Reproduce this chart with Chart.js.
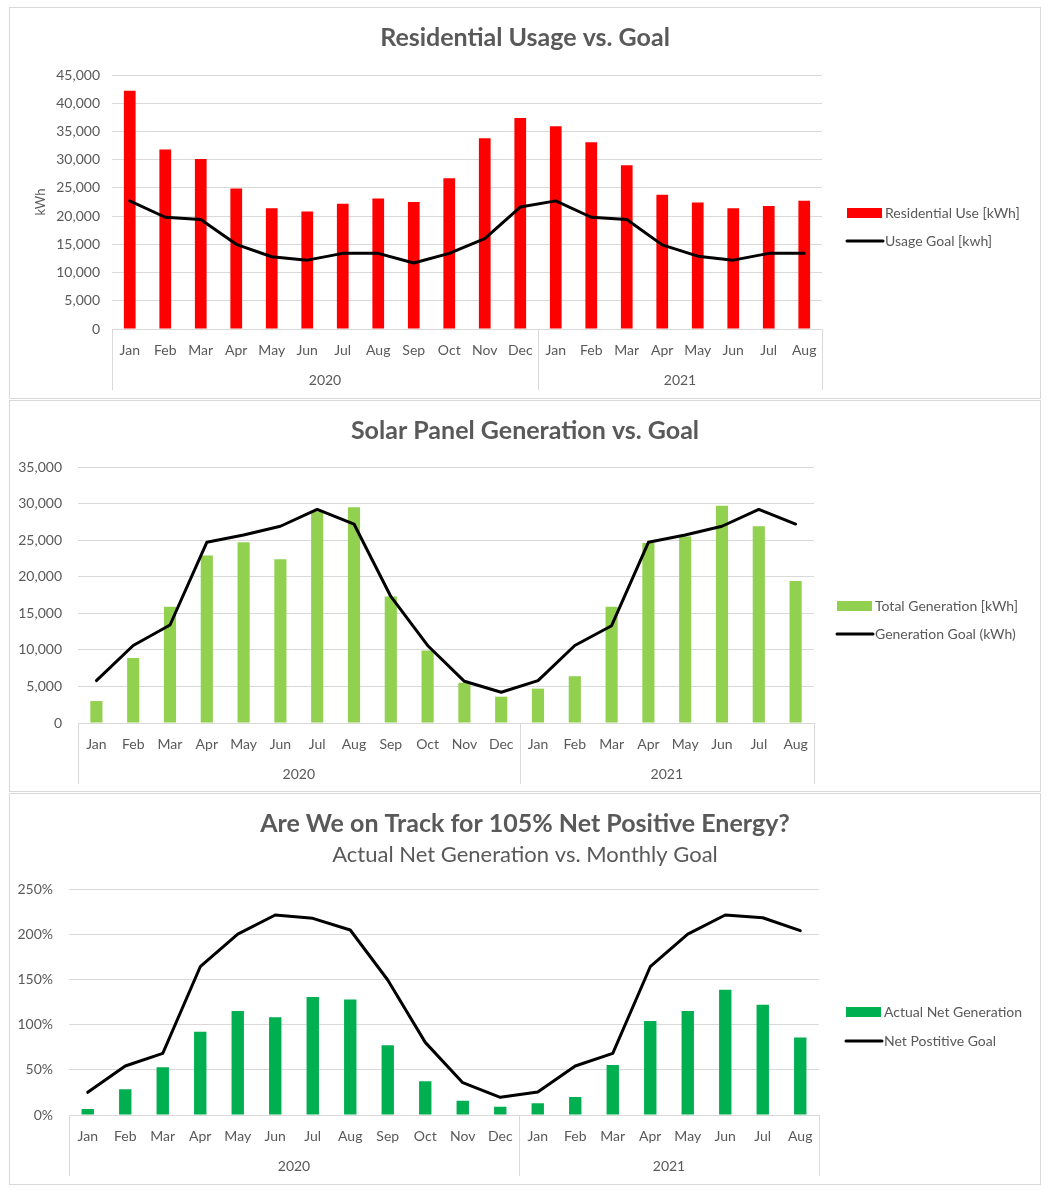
<!DOCTYPE html>
<html>
<head>
<meta charset="utf-8">
<script src="https://cdn.jsdelivr.net/npm/chart.js@4.4.1/dist/chart.umd.min.js"></script>
<style>
  body { margin: 0; background: #fff; }
  .panel { position: absolute; left: 9px; width: 1030px; height: 390px; border: 1px solid #d9d9d9; }
  canvas { display: block; }
</style>
</head>
<body>
<div class="panel" style="top:7px"><canvas id="usage" width="1030" height="390"></canvas></div>
<div class="panel" style="top:400px"><canvas id="solar" width="1030" height="390"></canvas></div>
<div class="panel" style="top:793px"><canvas id="net" width="1030" height="390"></canvas></div>
<script>
"use strict";

var months = ['Jan', 'Feb', 'Mar', 'Apr', 'May', 'Jun', 'Jul', 'Aug', 'Sep', 'Oct', 'Nov', 'Dec',
              'Jan', 'Feb', 'Mar', 'Apr', 'May', 'Jun', 'Jul', 'Aug'];
var years = ['2020', '2021'];
var yearSpans = [12, 8];

var residentialUse = [42200, 31800, 30100, 24900, 21400, 20800, 22200, 23100, 22500, 26700, 33800, 37400,
                      35900, 33100, 29000, 23800, 22400, 21400, 21800, 22700];
var usageGoal = [22700, 19800, 19400, 15000, 12800, 12200, 13400, 13400, 11700, 13400, 16000, 21600,
                 22700, 19800, 19400, 14900, 12900, 12200, 13400, 13400];

var totalGeneration = [3000, 8900, 15900, 22900, 24700, 22400, 28900, 29500, 17300, 9900, 5500, 3600,
                       4700, 6400, 15900, 24600, 25500, 29700, 26900, 19400];
var generationGoal = [5800, 10600, 13400, 24700, 25700, 26900, 29200, 27200, 17300, 10600, 5700, 4200,
                      5800, 10600, 13300, 24700, 25700, 26900, 29200, 27200];

// percent of monthly target
var actualNet = [6.6, 28.4, 52.8, 92.3, 115.2, 108.2, 130.7, 128.1, 77.2, 37.3, 15.9, 9.2,
                 12.9, 19.9, 55.4, 104.1, 115.2, 138.9, 122.2, 86.0];
var netGoal = [25.1, 54.3, 68.3, 164.3, 200.5, 221.6, 217.9, 205.0, 149.6, 80.5, 35.8, 19.6,
               25.6, 54.3, 68.3, 164.3, 200.5, 221.6, 218.6, 204.3];

var FONT = 'Lato, "Open Sans", sans-serif';
var GREY = '#595959';
var GRID = '#d9d9d9';

// two-level category axis: year labels under the months, split by vertical rules
var yearGroups = {
  id: 'yearGroups',
  afterDraw: function(chart) {
    var x = chart.scales.x, ctx = chart.ctx;
    var half = (x.getPixelForValue(1) - x.getPixelForValue(0)) / 2;
    var start = 0;
    ctx.save();
    ctx.strokeStyle = GRID;
    ctx.lineWidth = 1;
    ctx.fillStyle = GREY;
    ctx.font = '14px ' + FONT;
    ctx.textAlign = 'center';
    ctx.textBaseline = 'middle';
    function rule(px) {
      px = Math.round(px) + 0.5;
      ctx.beginPath();
      ctx.moveTo(px, x.top);
      ctx.lineTo(px, x.bottom + 1);
      ctx.stroke();
    }
    rule(x.left);
    years.forEach(function(yr, i) {
      var end = start + yearSpans[i] - 1;
      var l = x.getPixelForValue(start) - half;
      var r = x.getPixelForValue(end) + half;
      ctx.fillText(yr, (l + r) / 2, x.top + 51);
      rule(r);
      start += yearSpans[i];
    });
    ctx.restore();
  }
};

// legend to the right of the plot, Excel style
var sideLegend = {
  id: 'sideLegend',
  afterDraw: function(chart, args, opts) {
    var ctx = chart.ctx;
    var x = chart.chartArea.right + opts.gap;
    ctx.save();
    ctx.font = '14px ' + FONT;
    ctx.textBaseline = 'middle';
    chart.data.datasets.forEach(function(ds, i) {
      var cy = opts.top + i * opts.step;
      if (ds.type === 'line') {
        ctx.strokeStyle = ds.borderColor;
        ctx.lineWidth = 3;
        ctx.lineCap = 'round';
        ctx.beginPath();
        ctx.moveTo(x, cy);
        ctx.lineTo(x + 36, cy);
        ctx.stroke();
      } else {
        ctx.fillStyle = ds.backgroundColor;
        ctx.fillRect(x, cy - 5, 35, 10);
      }
      ctx.fillStyle = GREY;
      ctx.fillText(ds.label, x + 38, cy);
    });
    ctx.restore();
  }
};

function makeChart(id, spec) {
  var yScale = {
    min: 0,
    max: spec.max,
    ticks: {
      stepSize: spec.step,
      color: GREY,
      font: { family: FONT, size: 14 },
      padding: spec.tickPad,
      callback: spec.format
    },
    grid: { color: GRID, drawTicks: false },
    border: { display: false },
    afterFit: function(s) { s.width = spec.yWidth; }
  };
  if (spec.yTitle) {
    yScale.title = { display: true, text: spec.yTitle, color: GREY, font: { family: FONT, size: 13 }, padding: 23 };
  }

  return new Chart(document.getElementById(id), {
    type: 'bar',
    data: {
      labels: months,
      datasets: [
        {
          type: 'bar',
          label: spec.barLabel,
          data: spec.bars,
          backgroundColor: spec.barColor,
          barPercentage: 0.33,
          categoryPercentage: 1,
          order: 1
        },
        {
          type: 'line',
          label: spec.lineLabel,
          data: spec.line,
          borderColor: '#000',
          borderWidth: 3,
          borderJoinStyle: 'round',
          borderCapStyle: 'round',
          pointRadius: 0,
          tension: 0,
          order: 0
        }
      ]
    },
    options: {
      responsive: false,
      animation: false,
      layout: { padding: { left: 0, right: 0, top: 0, bottom: spec.padBottom } },
      plugins: {
        legend: { display: false },
        tooltip: { enabled: false },
        title: {
          display: true,
          text: spec.title,
          color: GREY,
          font: { family: FONT, size: 25, weight: 'bold' },
          padding: spec.titlePad
        },
        subtitle: {
          display: !!spec.subtitle,
          text: spec.subtitle || '',
          color: GREY,
          font: { family: FONT, size: 22 },
          padding: { top: 0, bottom: 21 }
        },
        sideLegend: spec.legend
      },
      scales: {
        x: {
          grid: { display: false, drawTicks: false },
          border: { color: GRID },
          ticks: { color: GREY, font: { family: FONT, size: 14 }, padding: 13, autoSkip: false, maxRotation: 0 },
          afterFit: function(s) { s.height = 60; }
        },
        y: yScale,
        // empty right-hand axis, only reserves room for the legend so the title stays centred on the panel
        room: {
          type: 'linear',
          position: 'right',
          grid: { display: false },
          border: { display: false },
          ticks: { display: false },
          afterFit: function(s) { s.width = spec.legendRoom; }
        }
      }
    },
    plugins: [yearGroups, sideLegend]
  });
}

function thousands(v) { return v.toLocaleString('en-US'); }
function percent(v) { return v + '%'; }

makeChart('usage', {
  title: 'Residential Usage vs. Goal',
  titlePad: { top: 15, bottom: 22 },
  bars: residentialUse, barLabel: 'Residential Use [kWh]', barColor: '#ff0000',
  line: usageGoal, lineLabel: 'Usage Goal [kwh]',
  max: 45000, step: 5000, format: thousands,
  yTitle: 'kWh', yWidth: 102, tickPad: 12,
  legendRoom: 218, padBottom: 9,
  legend: { gap: 25, top: 205, step: 28 }
});

makeChart('solar', {
  title: 'Solar Panel Generation vs. Goal',
  titlePad: { top: 15, bottom: 21 },
  bars: totalGeneration, barLabel: 'Total Generation [kWh]', barColor: '#92d050',
  line: generationGoal, lineLabel: 'Generation Goal (kWh)',
  max: 35000, step: 5000, format: thousands,
  yWidth: 68, tickPad: 16,
  legendRoom: 226, padBottom: 8,
  legend: { gap: 23, top: 205, step: 28 }
});

makeChart('net', {
  title: 'Are We on Track for 105% Net Positive Energy?',
  titlePad: { top: 15, bottom: 3 },
  subtitle: 'Actual Net Generation vs. Monthly Goal',
  bars: actualNet, barLabel: 'Actual Net Generation', barColor: '#00b050',
  line: netGoal, lineLabel: 'Net Postitive Goal',
  max: 250, step: 50, format: percent,
  yWidth: 59, tickPad: 16,
  legendRoom: 221, padBottom: 9,
  legend: { gap: 27, top: 218, step: 29 }
});
</script>
</body>
</html>
